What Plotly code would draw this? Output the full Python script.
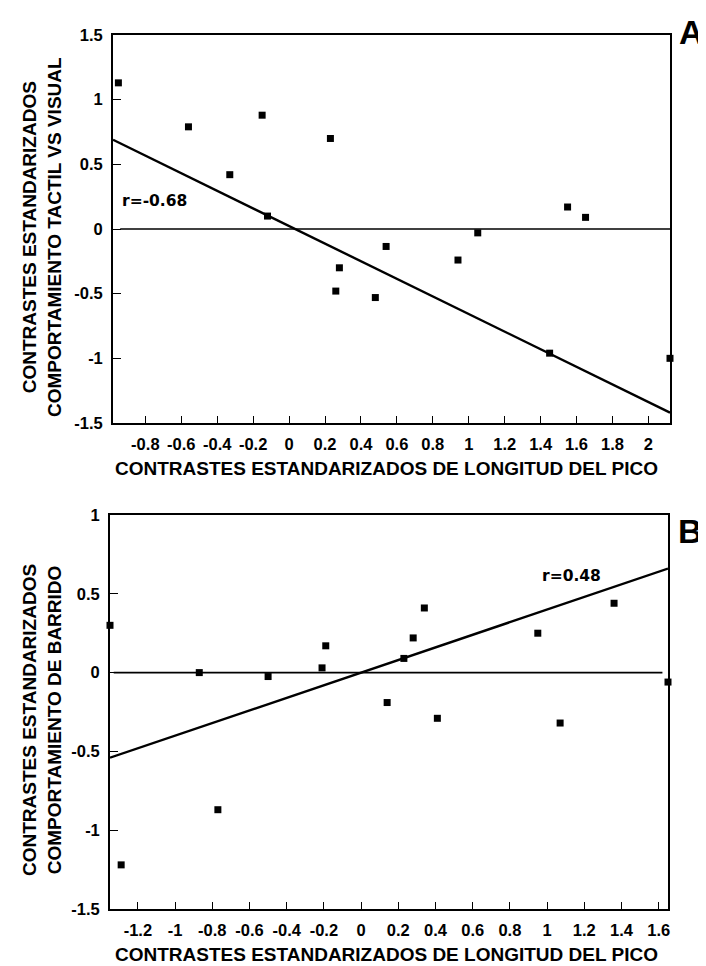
import plotly.graph_objects as go

# Panel A data
x_a = [-0.95, -0.56, -0.33, -0.15, -0.12, 0.23, 0.26, 0.28, 0.48, 0.54, 0.94, 1.05, 1.45, 1.55, 1.65, 2.12]
y_a = [1.13, 0.79, 0.42, 0.88, 0.10, 0.70, -0.48, -0.30, -0.53, -0.135, -0.24, -0.03, -0.96, 0.17, 0.09, -1.0]
fit_a_x = [-0.98, 2.12]
fit_a_y = [0.69, -1.42]
zero_a_x = [-0.94, 2.12]
zero_a_y = [0.0, 0.0]
r_a = "r=-0.68"

# Panel B data
x_b = [-1.35, -1.29, -0.87, -0.77, -0.50, -0.21, -0.19, 0.14, 0.23, 0.28, 0.34, 0.41, 0.95, 1.07, 1.36, 1.65]
y_b = [0.30, -1.22, 0.0, -0.87, -0.025, 0.03, 0.17, -0.19, 0.09, 0.22, 0.41, -0.29, 0.25, -0.32, 0.44, -0.06]
fit_b_x = [-1.35, 1.65]
fit_b_y = [-0.54, 0.66]
zero_b_x = [-1.33, 1.62]
zero_b_y = [0.0, 0.0]
r_b = "r=0.48"

xt_a = [-0.8, -0.6, -0.4, -0.2, 0, 0.2, 0.4, 0.6, 0.8, 1, 1.2, 1.4, 1.6, 1.8, 2]
xt_b = [-1.2, -1, -0.8, -0.6, -0.4, -0.2, 0, 0.2, 0.4, 0.6, 0.8, 1, 1.2, 1.4, 1.6]
yt_a = [-1.5, -1, -0.5, 0, 0.5, 1, 1.5]
yt_b = [-1.5, -1, -0.5, 0, 0.5, 1]

x_title = "CONTRASTES ESTANDARIZADOS DE LONGITUD DEL PICO"
y_title_a = "CONTRASTES ESTANDARIZADOS<br>COMPORTAMIENTO TACTIL VS VISUAL"
y_title_b = "CONTRASTES ESTANDARIZADOS<br>COMPORTAMIENTO DE BARRIDO"

def fmt(v):
    return "%g" % v

# page has an 8px body margin: figure is drawn 8px right/down
OFF = 8
PW, PH = 706, 966
W, H = PW - OFF, PH - OFF

def fx(px):
    return (px - OFF) / W

def fy(py):
    return 1 - (py - OFF) / H

FONT = "Liberation Sans, Arial, sans-serif"
fig = go.Figure()

def add_panel(xs, ys, lx, ly, zx, zy, xa, ya):
    fig.add_trace(go.Scatter(x=zx, y=zy, mode="lines", line=dict(color="black", width=1.6),
                             xaxis=xa, yaxis=ya, showlegend=False, hoverinfo="skip"))
    fig.add_trace(go.Scatter(x=lx, y=ly, mode="lines", line=dict(color="black", width=2.4),
                             xaxis=xa, yaxis=ya, showlegend=False, cliponaxis=False))
    fig.add_trace(go.Scatter(x=xs, y=ys, mode="markers",
                             marker=dict(symbol="square", size=7, color="black"),
                             xaxis=xa, yaxis=ya, showlegend=False, cliponaxis=False))

add_panel(x_a, y_a, fit_a_x, fit_a_y, zero_a_x, zero_a_y, "x", "y")
add_panel(x_b, y_b, fit_b_x, fit_b_y, zero_b_x, zero_b_y, "x2", "y2")

tickfont = dict(family=FONT, size=16.5, color="black", weight="bold")
titlefont = dict(family=FONT, size=19, color="black", weight="bold")

def xaxis(rng, tv, dom, anchor):
    return dict(range=rng, domain=dom, anchor=anchor, tickvals=tv, ticktext=[fmt(v) for v in tv],
                ticks="inside", ticklen=7, tickwidth=1.3, tickcolor="black",
                showline=True, linecolor="black", linewidth=1.8, mirror=True,
                showgrid=False, zeroline=False, tickfont=tickfont,
                ticklabelstandoff=5, automargin=False)

def yaxis(rng, tv, dom, anchor):
    return dict(range=rng, domain=dom, anchor=anchor, tickvals=tv, ticktext=[fmt(v) for v in tv],
                ticks="inside", ticklen=8, tickwidth=1.3, tickcolor="black",
                showline=True, linecolor="black", linewidth=1.8, mirror=True,
                showgrid=False, zeroline=False, tickfont=tickfont,
                ticklabelstandoff=5, automargin=False)

fig.update_layout(
    width=W, height=H,
    margin=dict(l=0, r=0, t=0, b=0),
    paper_bgcolor="white", plot_bgcolor="white",
    xaxis=xaxis([-0.98, 2.12], xt_a, [fx(113), fx(670)], "y"),
    yaxis=yaxis([-1.5, 1.5], yt_a, [fy(423), fy(35)], "x"),
    xaxis2=xaxis([-1.35, 1.65], xt_b, [fx(110), fx(668)], "y2"),
    yaxis2=yaxis([-1.5, 1.0], yt_b, [fy(909), fy(515)], "x2"),
    showlegend=False,
)

def page_text(px, py, text, font, angle=0):
    fig.add_annotation(x=fx(px), y=fy(py), xref="paper", yref="paper", text=text, showarrow=False,
                       xanchor="center", yanchor="middle", textangle=angle, font=font)

# axis titles
page_text(386, 469, x_title, titlefont)
page_text(386, 954, x_title, titlefont)
page_text(42, 237, y_title_a, titlefont, -90)
page_text(42, 720, y_title_b, titlefont, -90)

rfont = dict(family="DejaVu Sans, sans-serif", size=15.5, color="black", weight="bold")
fig.add_annotation(x=-0.75, y=0.22, xref="x", yref="y", text=r_a, showarrow=False, font=rfont)
fig.add_annotation(x=1.13, y=0.61, xref="x2", yref="y2", text=r_b, showarrow=False, font=rfont)

bigfont = dict(family="Liberation Sans Narrow, Liberation Sans, sans-serif", size=34, color="black", weight="bold")
page_text(691, 32, "A", bigfont)
page_text(690, 531, "B", bigfont)

fig.write_html("out.html")
